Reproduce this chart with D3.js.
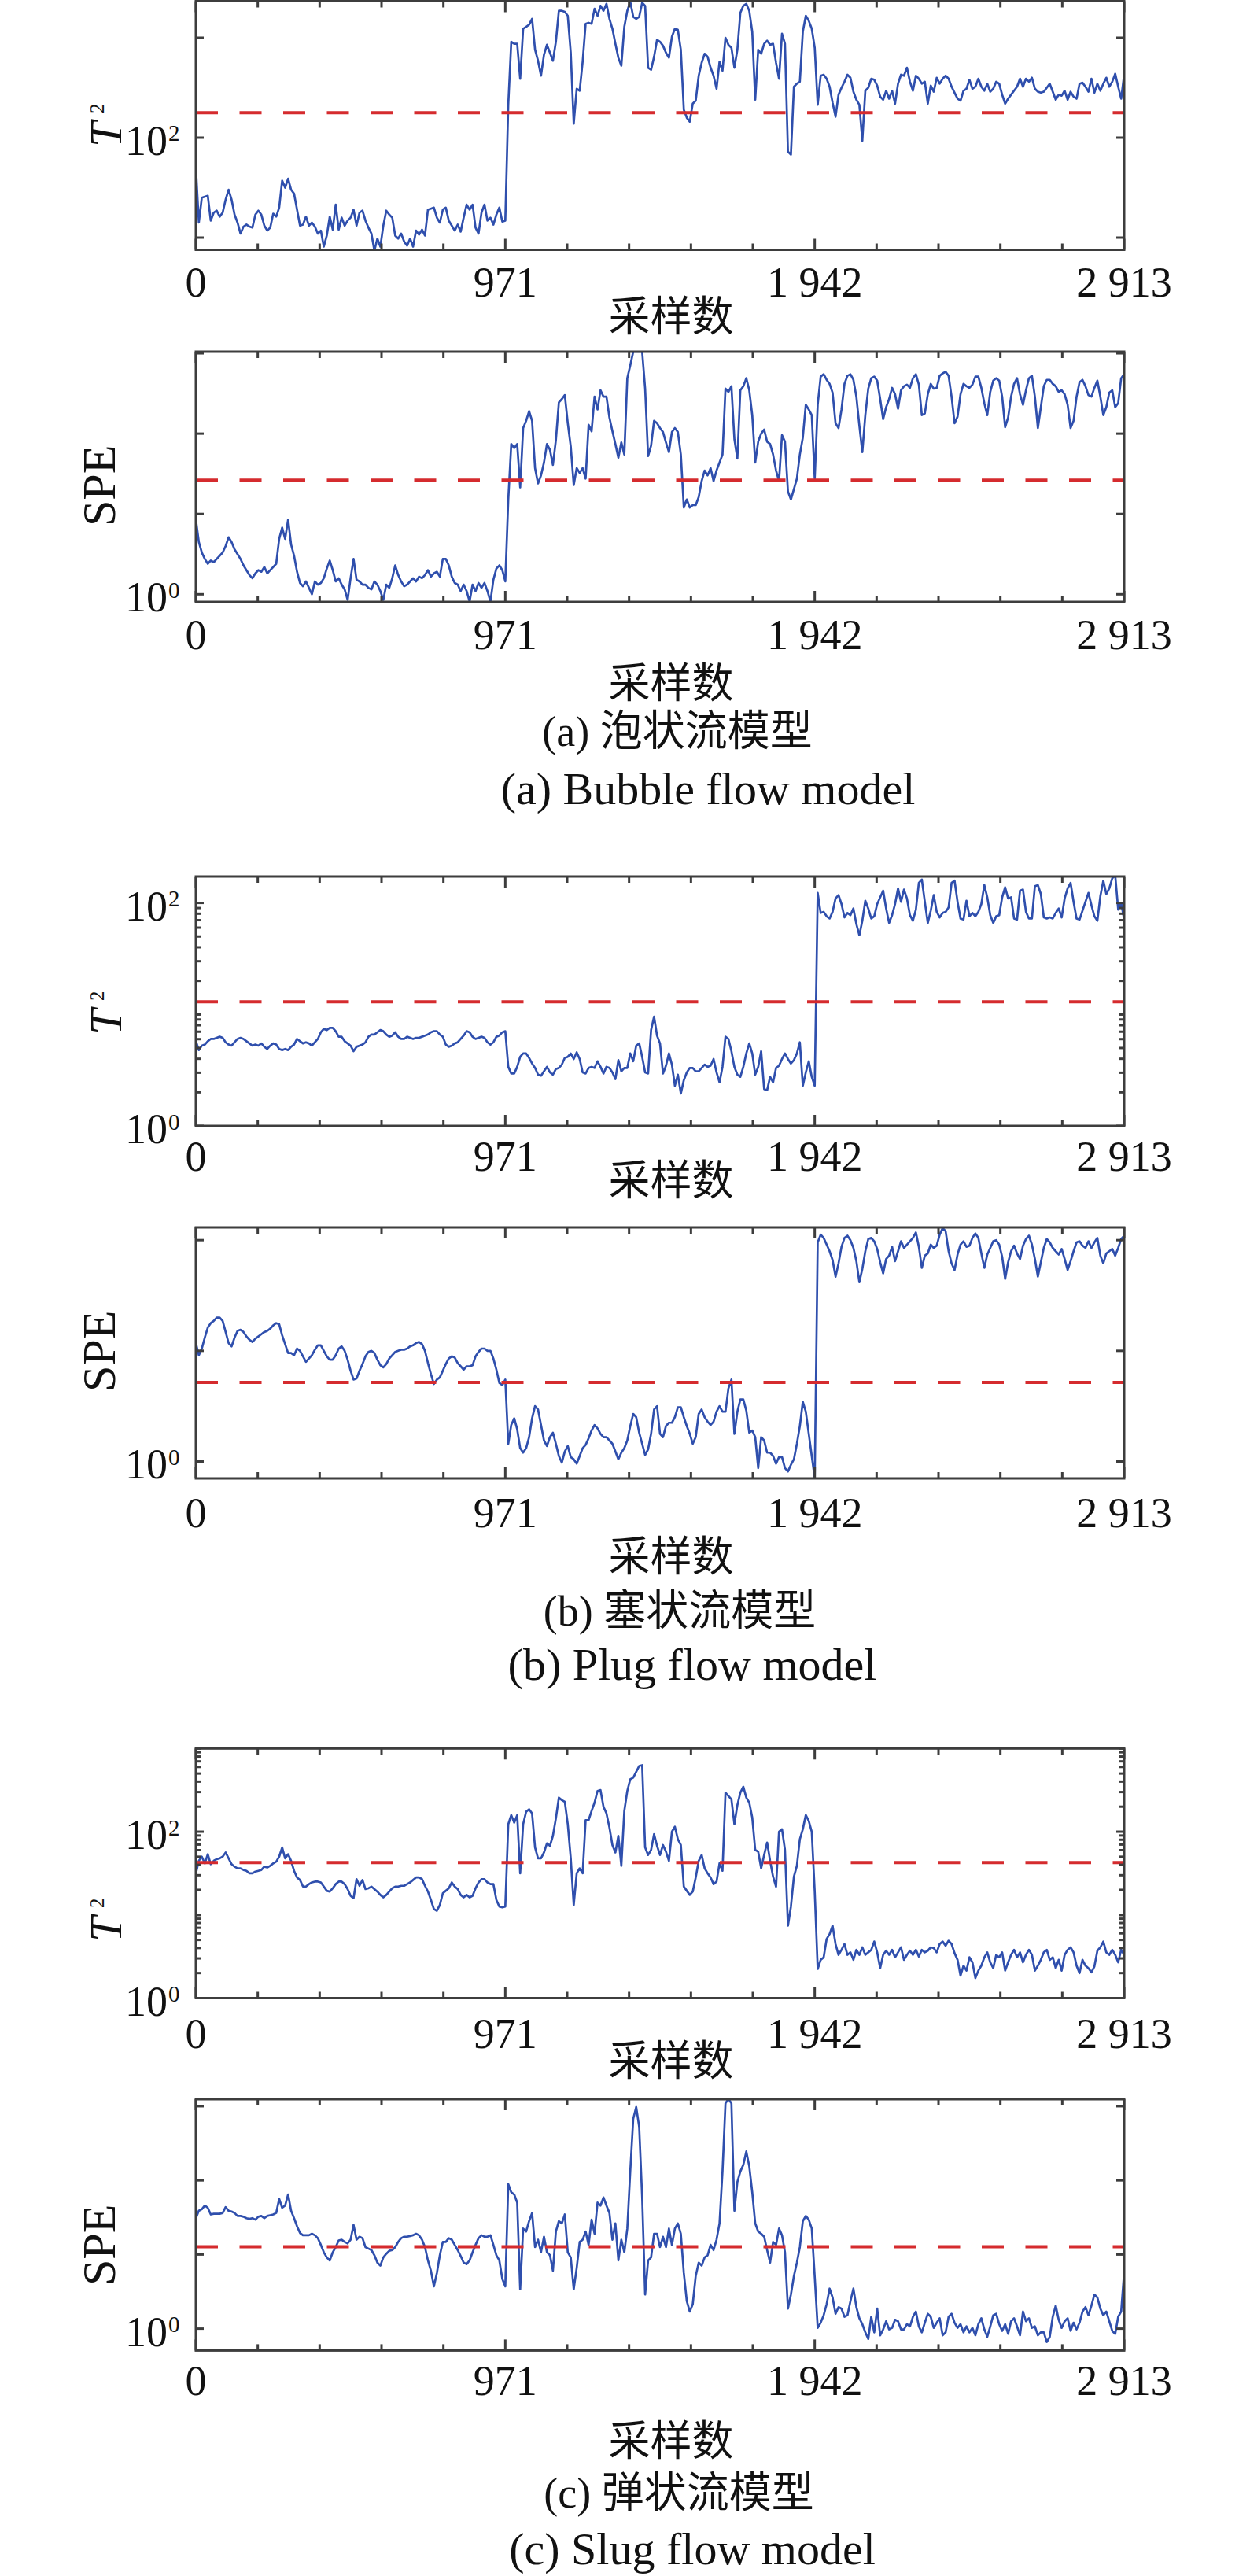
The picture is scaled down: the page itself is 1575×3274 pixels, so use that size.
<!DOCTYPE html>
<html><head><meta charset="utf-8">
<script src="https://cdn.jsdelivr.net/npm/d3@7"></script>
<style>body{margin:0;background:#fff}svg{display:block}</style>
</head><body>
<svg id="chart" width="1575" height="3274"></svg>
<script>
// ---------------- DATA ----------------
// x axis: sample number 0..2913 ; each series is read at evenly spaced samples
const sampleMax = 2913;
const xTickValues = [0, 971, 1942, 2913];
const xTickLabels = ["0", "971", "1 942", "2 913"];
const xAxisTitle = "采样数";
const captionsCn = ["(a) 泡状流模型", "(b) 塞状流模型", "(c) 弹状流模型"];
const captionsEn = ["(a) Bubble flow model", "(b) Plug flow model", "(c) Slug flow model"];

// all statistic values are stored as log10(value) (the y axes are logarithmic)
const bubbleT2Log = [1.70,1.15,1.40,1.41,1.42,1.17,1.25,1.27,1.21,1.25,1.38,1.48,1.38,1.23,1.15,1.04,1.11,1.13,1.11,1.10,1.23,1.27,1.23,1.12,1.07,1.10,1.24,1.21,1.30,1.57,1.50,1.59,1.48,1.44,1.28,1.12,1.13,1.21,1.12,1.15,1.11,1.04,1.07,0.91,1.02,1.21,1.08,1.33,1.08,1.20,1.12,1.17,1.20,1.28,1.12,1.25,1.27,1.17,1.10,1.04,0.87,0.99,0.91,1.12,1.27,1.23,1.20,1.02,0.99,1.04,0.96,0.92,0.99,0.91,1.07,1.03,1.08,1.02,1.28,1.29,1.30,1.20,1.15,1.28,1.30,1.17,1.12,1.07,1.13,1.06,1.20,1.33,1.28,1.33,1.10,1.04,1.25,1.33,1.17,1.20,1.13,1.23,1.30,1.16,1.17,
2.33,2.96,2.94,2.94,2.59,3.09,3.11,3.13,3.19,2.88,2.77,2.62,2.83,2.93,2.85,2.77,2.96,3.27,3.27,3.26,3.22,2.85,2.14,2.49,2.47,2.76,3.14,3.15,3.14,3.29,3.22,3.32,3.27,3.34,3.19,3.09,2.94,2.80,2.72,3.11,3.27,3.36,3.21,3.19,3.21,3.35,3.32,2.70,2.68,2.81,2.98,2.96,2.92,2.85,2.80,3.01,3.09,3.08,2.88,2.28,2.20,2.16,2.34,2.37,2.62,2.75,2.84,2.81,2.70,2.62,2.49,2.76,2.67,3.00,2.93,2.90,2.70,2.88,3.25,3.32,3.34,3.27,3.06,2.38,2.88,2.84,2.94,2.97,2.93,2.94,2.75,2.59,3.04,2.94,1.86,1.83,2.51,2.54,2.56,3.06,3.22,3.17,3.09,2.90,2.33,2.62,2.63,2.59,2.51,2.35,2.21,2.43,2.50,2.56,2.63,2.60,2.46,2.38,2.33,1.97,2.47,2.50,2.59,2.58,2.52,2.41,2.38,2.47,2.39,2.47,2.34,2.54,2.63,2.62,2.70,2.56,2.47,2.62,2.59,2.54,2.56,2.34,2.52,2.46,2.60,2.54,2.59,2.62,2.59,2.51,2.45,2.39,2.37,2.47,2.49,2.58,2.49,2.51,2.59,2.51,2.47,2.54,2.46,2.49,2.56,2.54,2.43,2.34,2.39,2.43,2.47,2.51,2.59,2.51,2.59,2.56,2.60,2.49,2.46,2.45,2.46,2.50,2.54,2.46,2.38,2.43,2.42,2.47,2.38,2.46,2.41,2.39,2.54,2.55,2.51,2.46,2.59,2.45,2.54,2.47,2.54,2.60,2.51,2.56,2.64,2.51,2.39,2.63];

const bubbleSpeLog = [0.93,0.65,0.52,0.44,0.38,0.42,0.40,0.44,0.48,0.52,0.60,0.71,0.65,0.56,0.50,0.44,0.36,0.30,0.24,0.20,0.26,0.30,0.28,0.34,0.26,0.30,0.34,0.38,0.69,0.83,0.69,0.93,0.62,0.48,0.28,0.14,0.10,0.16,0.08,0.00,0.16,0.12,0.14,0.20,0.32,0.42,0.30,0.16,0.20,0.12,0.06,-0.07,0.20,0.44,0.18,0.16,0.12,0.12,0.08,0.06,0.16,0.12,0.04,-0.07,0.12,0.08,0.20,0.36,0.24,0.16,0.10,0.12,0.16,0.20,0.16,0.22,0.20,0.24,0.30,0.22,0.26,0.28,0.22,0.44,0.44,0.36,0.22,0.14,0.12,0.04,0.12,0.04,-0.09,0.12,0.04,0.14,0.08,0.14,0.04,-0.09,0.18,0.32,0.36,0.30,0.16,
1.18,1.87,1.82,1.87,1.33,2.07,2.16,2.28,2.16,1.57,1.38,1.48,1.64,1.87,1.80,1.61,1.92,2.39,2.43,2.48,2.13,1.84,1.36,1.57,1.51,1.57,1.44,2.11,2.03,2.46,2.30,2.54,2.46,2.46,2.20,2.03,1.87,1.70,1.89,1.74,2.69,2.85,3.02,3.02,3.02,3.02,2.56,1.72,1.85,2.16,2.13,2.07,2.02,1.89,1.77,2.02,2.07,2.02,1.74,1.08,1.18,1.08,1.11,1.11,1.21,1.41,1.54,1.48,1.57,1.41,1.54,1.64,1.74,2.56,2.52,2.59,1.93,1.69,2.54,2.59,2.69,2.54,2.23,1.64,1.90,2.00,2.05,1.90,1.87,1.74,1.54,1.41,1.98,1.90,1.28,1.18,1.31,1.44,1.74,1.95,2.36,2.30,2.23,1.44,2.36,2.71,2.74,2.67,2.62,2.51,2.13,2.07,2.30,2.62,2.72,2.74,2.67,2.46,2.10,1.77,2.23,2.56,2.69,2.71,2.66,2.43,2.18,2.33,2.43,2.57,2.49,2.31,2.54,2.59,2.61,2.57,2.69,2.74,2.61,2.23,2.25,2.49,2.62,2.56,2.57,2.72,2.75,2.77,2.72,2.46,2.13,2.21,2.49,2.62,2.59,2.57,2.61,2.71,2.71,2.57,2.38,2.23,2.52,2.66,2.69,2.66,2.46,2.08,2.20,2.46,2.62,2.69,2.49,2.36,2.54,2.69,2.72,2.46,2.07,2.33,2.59,2.67,2.67,2.62,2.59,2.52,2.54,2.49,2.36,2.07,2.16,2.46,2.64,2.67,2.59,2.48,2.46,2.57,2.66,2.46,2.23,2.33,2.51,2.54,2.33,2.38,2.69,2.74];

const plugT2Log = [0.76,0.68,0.72,0.73,0.76,0.78,0.78,0.79,0.80,0.79,0.75,0.73,0.72,0.75,0.78,0.79,0.78,0.76,0.74,0.72,0.73,0.72,0.74,0.71,0.69,0.72,0.74,0.73,0.69,0.68,0.69,0.68,0.71,0.73,0.78,0.76,0.74,0.75,0.74,0.72,0.75,0.78,0.84,0.87,0.86,0.88,0.88,0.85,0.80,0.80,0.76,0.74,0.72,0.67,0.71,0.72,0.73,0.75,0.80,0.82,0.82,0.84,0.86,0.85,0.82,0.80,0.81,0.84,0.80,0.78,0.78,0.80,0.79,0.78,0.79,0.79,0.80,0.81,0.82,0.84,0.85,0.85,0.82,0.80,0.73,0.71,0.72,0.74,0.75,0.78,0.81,0.85,0.84,0.80,0.78,0.79,0.80,0.79,0.75,0.73,0.75,0.80,0.81,0.84,0.85,
0.53,0.47,0.47,0.53,0.62,0.65,0.65,0.61,0.56,0.52,0.46,0.45,0.49,0.53,0.48,0.46,0.51,0.52,0.55,0.61,0.62,0.65,0.60,0.66,0.60,0.48,0.47,0.52,0.53,0.52,0.58,0.53,0.47,0.53,0.52,0.48,0.42,0.59,0.49,0.52,0.52,0.65,0.58,0.72,0.74,0.62,0.48,0.47,0.86,0.98,0.81,0.74,0.47,0.54,0.65,0.55,0.36,0.46,0.29,0.41,0.48,0.52,0.52,0.49,0.49,0.52,0.55,0.53,0.54,0.60,0.48,0.39,0.53,0.80,0.78,0.67,0.53,0.46,0.44,0.53,0.65,0.74,0.65,0.46,0.53,0.67,0.33,0.32,0.44,0.39,0.52,0.54,0.60,0.65,0.60,0.56,0.59,0.65,0.75,0.36,0.48,0.58,0.44,0.36,
2.09,1.91,1.92,1.88,1.86,1.92,2.04,2.07,1.99,1.87,1.91,1.89,1.95,1.81,1.71,1.84,2.02,1.95,1.86,1.88,1.99,2.05,2.11,1.95,1.82,1.89,1.99,2.13,2.01,2.12,2.04,1.89,1.84,1.94,2.18,2.21,2.01,1.82,1.93,2.07,1.92,1.87,1.91,1.92,1.96,2.18,2.20,2.01,1.86,1.85,2.02,1.88,1.91,1.88,1.92,1.99,2.16,2.05,1.89,1.82,1.88,1.89,2.05,2.14,2.04,2.05,1.86,1.85,2.11,2.12,1.92,1.86,1.86,2.15,2.16,2.08,1.87,1.86,1.87,1.86,1.91,1.95,1.87,2.04,2.13,2.18,2.01,1.86,1.85,1.93,2.01,2.09,1.98,1.88,1.84,2.06,2.20,2.08,2.13,2.22,2.25,1.94,2.00,1.85];

const plugSpeLog = [1.07,0.96,1.02,1.12,1.21,1.25,1.27,1.30,1.30,1.27,1.17,1.07,1.04,1.12,1.18,1.19,1.17,1.13,1.10,1.08,1.11,1.13,1.15,1.17,1.18,1.20,1.23,1.25,1.24,1.14,1.06,0.98,0.98,0.96,1.02,1.00,0.95,0.90,0.93,0.96,1.01,1.05,1.05,1.00,0.95,0.92,0.92,0.96,1.02,1.04,1.00,0.92,0.82,0.74,0.75,0.82,0.88,0.95,0.99,1.00,0.98,0.92,0.87,0.85,0.88,0.93,0.96,0.99,1.00,1.01,1.01,1.02,1.04,1.05,1.07,1.08,1.06,1.00,0.89,0.79,0.70,0.74,0.76,0.82,0.88,0.93,0.95,0.94,0.89,0.86,0.83,0.86,0.86,0.87,0.95,0.99,1.02,1.02,1.00,1.00,0.93,0.83,0.71,0.69,0.74,
0.16,0.33,0.39,0.29,0.12,0.08,0.12,0.22,0.39,0.50,0.47,0.33,0.19,0.14,0.22,0.26,0.16,0.05,-0.01,0.09,0.14,0.04,0.02,-0.02,0.05,0.12,0.15,0.21,0.28,0.33,0.30,0.25,0.22,0.22,0.19,0.16,0.09,0.02,0.08,0.12,0.19,0.32,0.43,0.40,0.26,0.16,0.06,0.11,0.25,0.47,0.50,0.25,0.22,0.32,0.35,0.35,0.40,0.49,0.49,0.40,0.32,0.25,0.16,0.22,0.43,0.47,0.40,0.36,0.33,0.36,0.45,0.50,0.45,0.45,0.66,0.74,0.25,0.45,0.56,0.56,0.46,0.26,0.28,0.22,-0.06,0.22,0.19,0.08,0.08,0.05,-0.02,0.04,0.04,-0.06,-0.09,-0.03,0.02,0.16,0.32,0.54,0.45,0.25,0.05,-0.15,
1.98,2.05,2.02,1.96,1.90,1.82,1.67,1.79,1.94,2.02,2.04,2.00,1.93,1.81,1.62,1.74,1.90,2.01,2.02,1.99,1.92,1.80,1.70,1.83,1.86,1.94,1.81,1.90,1.99,1.93,1.96,1.99,2.02,2.07,1.94,1.75,1.86,1.88,1.96,1.93,1.95,2.05,2.11,2.08,1.90,1.79,1.73,1.87,1.96,1.99,1.94,1.95,2.02,2.06,2.02,1.88,1.75,1.87,1.93,1.99,2.00,1.96,1.85,1.65,1.80,1.90,1.95,1.88,1.83,1.95,2.01,2.04,1.96,1.83,1.67,1.80,1.93,2.01,1.98,1.93,1.90,1.87,1.92,1.83,1.73,1.81,1.90,1.98,1.99,1.95,1.93,1.99,1.93,1.98,2.02,1.86,1.79,1.88,1.90,1.92,1.86,1.93,2.01,2.04];

const slugT2Log = [1.50,1.65,1.70,1.62,1.73,1.61,1.65,1.67,1.68,1.70,1.75,1.68,1.61,1.58,1.56,1.56,1.54,1.53,1.50,1.50,1.52,1.53,1.54,1.58,1.57,1.59,1.62,1.64,1.70,1.81,1.68,1.73,1.65,1.53,1.45,1.42,1.34,1.34,1.37,1.39,1.40,1.40,1.39,1.34,1.29,1.28,1.32,1.37,1.40,1.40,1.37,1.31,1.23,1.20,1.43,1.35,1.42,1.31,1.32,1.34,1.31,1.28,1.24,1.21,1.24,1.28,1.32,1.34,1.34,1.35,1.35,1.37,1.39,1.42,1.45,1.45,1.43,1.35,1.28,1.18,1.07,1.05,1.12,1.26,1.29,1.32,1.39,1.34,1.31,1.24,1.21,1.24,1.21,1.23,1.32,1.39,1.43,1.43,1.39,1.37,1.37,1.18,1.10,1.09,1.10,
2.09,2.20,2.11,2.20,1.50,2.09,2.24,2.27,2.22,1.81,1.68,1.68,1.75,1.86,1.83,1.95,2.16,2.41,2.38,2.36,2.09,1.68,1.12,1.50,1.56,1.50,2.14,2.14,2.25,2.35,2.49,2.50,2.30,2.22,2.05,1.84,1.75,1.95,1.59,2.25,2.49,2.63,2.65,2.72,2.79,2.80,1.81,1.72,1.78,1.97,1.83,1.72,1.84,1.76,1.65,2.00,2.06,1.91,1.84,1.34,1.29,1.24,1.28,1.45,1.65,1.72,1.56,1.50,1.45,1.37,1.40,1.62,1.53,2.47,2.43,2.39,2.09,2.32,2.47,2.54,2.41,2.35,2.17,1.78,1.76,1.56,1.72,1.87,1.65,1.46,1.34,2.00,2.03,1.78,0.87,1.10,1.46,1.59,1.91,2.03,2.20,2.13,2.00,1.28,0.35,0.46,0.49,0.71,0.77,0.87,0.65,0.52,0.58,0.65,0.52,0.55,0.46,0.58,0.52,0.61,0.52,0.55,0.58,0.68,0.55,0.36,0.52,0.57,0.52,0.58,0.49,0.55,0.61,0.46,0.52,0.57,0.52,0.58,0.50,0.58,0.55,0.57,0.61,0.60,0.55,0.65,0.68,0.63,0.69,0.65,0.54,0.46,0.27,0.39,0.33,0.49,0.43,0.24,0.33,0.39,0.49,0.55,0.43,0.36,0.52,0.49,0.55,0.33,0.43,0.52,0.58,0.49,0.55,0.43,0.52,0.58,0.52,0.33,0.39,0.46,0.55,0.58,0.46,0.49,0.36,0.46,0.33,0.52,0.58,0.61,0.55,0.39,0.30,0.46,0.39,0.36,0.31,0.38,0.57,0.61,0.68,0.55,0.52,0.58,0.52,0.43,0.58,0.52];

const slugSpeLog = [1.49,1.59,1.61,1.66,1.63,1.54,1.55,1.55,1.55,1.56,1.64,1.59,1.58,1.56,1.52,1.52,1.51,1.49,1.48,1.49,1.47,1.51,1.52,1.49,1.52,1.53,1.54,1.56,1.75,1.63,1.66,1.81,1.59,1.49,1.38,1.29,1.26,1.26,1.26,1.28,1.26,1.22,1.13,1.03,0.96,0.92,1.03,1.10,1.19,1.20,1.17,1.15,1.20,1.40,1.20,1.24,1.22,1.10,1.08,1.06,0.99,0.89,0.85,0.96,1.01,1.05,1.06,1.10,1.17,1.22,1.24,1.24,1.25,1.26,1.28,1.26,1.20,1.10,0.92,0.78,0.57,0.75,0.99,1.17,1.17,1.22,1.20,1.13,1.06,0.98,0.89,0.87,0.92,1.03,1.13,1.22,1.26,1.24,1.24,1.26,1.13,0.99,0.92,0.67,0.57,
1.95,1.84,1.81,1.70,0.53,1.35,1.31,1.45,1.56,1.10,1.20,1.03,1.24,1.03,0.99,0.78,1.31,1.45,1.42,1.54,1.03,0.96,0.53,0.82,1.17,1.20,1.31,1.13,1.47,1.28,1.70,1.66,1.77,1.66,1.56,1.20,1.42,0.92,1.20,1.03,1.35,2.12,2.83,2.99,2.72,1.77,0.46,0.92,0.96,1.28,1.28,1.10,1.24,1.10,1.35,1.13,1.35,1.42,1.28,0.75,0.37,0.23,0.33,0.71,0.89,0.85,0.96,0.99,1.13,1.06,1.20,1.42,2.12,3.04,3.10,3.04,1.59,1.98,2.12,2.21,2.39,2.19,1.84,1.42,1.31,1.28,1.24,1.06,0.89,1.17,1.13,1.35,1.26,1.03,0.27,0.46,0.71,0.89,1.10,1.45,1.52,1.47,1.35,
0.70,0.01,0.08,0.18,0.33,0.54,0.42,0.20,0.29,0.27,0.16,0.18,0.37,0.54,0.29,0.14,0.06,-0.05,-0.14,0.16,-0.05,0.27,-0.09,-0.01,0.10,-0.01,0.01,0.12,0.10,-0.01,-0.01,0.06,0.03,0.16,0.23,0.03,-0.05,0.08,0.20,0.16,0.01,0.08,0.14,-0.09,-0.05,0.16,0.20,0.08,0.01,0.06,-0.05,0.03,-0.05,0.01,-0.09,0.06,0.14,-0.01,-0.11,0.03,0.18,0.20,0.06,-0.03,0.06,-0.07,0.10,0.14,0.03,-0.09,0.23,0.10,0.14,0.01,0.03,-0.09,-0.05,-0.05,-0.18,-0.11,0.16,0.31,0.12,0.01,0.10,0.14,-0.03,0.08,-0.01,0.08,0.23,0.29,0.18,0.31,0.46,0.42,0.27,0.18,0.23,0.10,-0.03,-0.07,0.16,0.23,0.76];

// control limits (log10)
const limitsLog = [2.25, 1.42, 1.113, 0.714, 1.628, 1.106];

// ---------------- LAYOUT ----------------
const serif = '"Liberation Serif","DejaVu Serif","Noto Sans CJK SC",serif';
const cjk = '"Noto Sans CJK SC","Liberation Serif",sans-serif';
const axisColor = "#3d3d3d", lineColor = "#2f4fad", limitColor = "#d52b2e";
const L = 249, R = 1429;

const panels = [
  {data: bubbleT2Log, lim: limitsLog[0], kind: "T2", top: 1.5, bottom: 317.5, dom: [0.878, 3.366], major: [1,2,3], minorDec: null, labels: [2], tickBase: 377, titleBase: 420.5, yLabStart: 187},
  {data: bubbleSpeLog, lim: limitsLog[1], kind: "SPE", top: 447, bottom: 765, dom: [-0.095, 3.02], major: [0,1,2,3], minorDec: null, labels: [0], tickBase: 824.5, titleBase: 887, yLabStart: 669, cap: 0},
  {data: plugT2Log, lim: limitsLog[2], kind: "T2", top: 1114, bottom: 1431, dom: [0, 2.237], major: [0,2], minorDec: [0,1], labels: [0,2], tickBase: 1488, titleBase: 1518.5, yLabStart: 1315},
  {data: plugSpeLog, lim: limitsLog[3], kind: "SPE", top: 1560, bottom: 1879, dom: [-0.153, 2.115], major: [0,1,2], minorDec: null, labels: [0], tickBase: 1941, titleBase: 1997, yLabStart: 1769, cap: 1},
  {data: slugT2Log, lim: limitsLog[4], kind: "T2", top: 2222.3, bottom: 2539.5, dom: [0, 3.0], major: [0,2], minorDec: [0,1,2], labels: [0,2], tickBase: 2603, titleBase: 2638, yLabStart: 2468},
  {data: slugSpeLog, lim: limitsLog[5], kind: "SPE", top: 2668, bottom: 2987.4, dom: [-0.295, 3.095], major: [0,1,2,3], minorDec: null, labels: [0], tickBase: 3044, titleBase: 3120.6, yLabStart: 2905, cap: 2}
];
const capLayout = [
  {cnX: 861, cnBase: 948, enX: 900, enBase: 1022},
  {cnX: 864, cnBase: 2066, enX: 880, enBase: 2135},
  {cnX: 863, cnBase: 3187, enX: 880, enBase: 3259}
];

const svg = d3.select("#chart");
const x = d3.scaleLinear().domain([0, sampleMax]).range([L, R]);

panels.forEach((p, pi) => {
  const y = d3.scaleLinear().domain(p.dom).range([p.bottom, p.top]);
  const g = svg.append("g");
  const clipId = "clip" + pi;
  svg.append("clipPath").attr("id", clipId).append("rect")
    .attr("x", L).attr("y", p.top).attr("width", R - L).attr("height", p.bottom - p.top);

  const step = sampleMax / (p.data.length - 1);
  const line = d3.line().x((d, i) => x(i * step)).y(d => y(d));
  g.append("path").datum(p.data).attr("d", line)
    .attr("clip-path", `url(#${clipId})`)
    .attr("fill", "none").attr("stroke", lineColor).attr("stroke-width", 2.7)
    .attr("stroke-linejoin", "round");

  g.append("line").attr("x1", x(0)).attr("x2", x(sampleMax))
    .attr("y1", y(p.lim)).attr("y2", y(p.lim))
    .attr("stroke", limitColor).attr("stroke-width", 4).attr("stroke-dasharray", "28 27.5");

  // x ticks (major + minor, inward, top and bottom)
  const xMinor = d3.range(0, 16).map(k => k * 971 / 5).filter(v => !xTickValues.some(t => Math.abs(t - v) < 1));
  const tick = (x1, y1, x2, y2) => g.append("line").attr("x1", x1).attr("y1", y1).attr("x2", x2).attr("y2", y2)
    .attr("stroke", axisColor).attr("stroke-width", 3);
  xTickValues.forEach(v => { tick(x(v), p.bottom, x(v), p.bottom - 14); tick(x(v), p.top, x(v), p.top + 14); });
  xMinor.forEach(v => { tick(x(v), p.bottom, x(v), p.bottom - 8); tick(x(v), p.top, x(v), p.top + 8); });

  // y ticks
  p.major.forEach(e => { if (e >= p.dom[0] - 1e-6 && e <= p.dom[1] + 1e-6) { tick(L, y(e), L + 10, y(e)); tick(R, y(e), R - 10, y(e)); } });
  if (p.minorDec) {
    p.minorDec.forEach(d => {
      for (let k = 1; k <= 10; k++) {
        const e = d + Math.log10(k);
        if (p.major.includes(Math.round(e * 1000) / 1000)) continue;
        if (e < p.dom[0] || e > p.dom[1] + 1e-6) continue;
        tick(L, y(e), L + 6, y(e)); tick(R, y(e), R - 6, y(e));
      }
    });
  }

  // frame
  g.append("rect").attr("x", L).attr("y", p.top).attr("width", R - L).attr("height", p.bottom - p.top)
    .attr("fill", "none").attr("stroke", axisColor).attr("stroke-width", 3);

  // y tick labels 10^k
  p.labels.forEach(e => {
    const base = y(e) + 22;
    g.append("text").attr("x", 213).attr("y", base).attr("text-anchor", "end")
      .attr("font-family", serif).attr("font-size", 54).attr("fill", "#111").text("10");
    g.append("text").attr("x", 214).attr("y", base - 17.5).attr("text-anchor", "start")
      .attr("font-family", serif).attr("font-size", 29).attr("fill", "#111").text(String(e));
  });

  // x tick labels
  xTickValues.forEach((v, i) => {
    g.append("text").attr("x", x(v)).attr("y", p.tickBase).attr("text-anchor", "middle")
      .attr("font-family", serif).attr("font-size", 54).attr("fill", "#111").text(xTickLabels[i]);
  });

  // x title
  g.append("text").attr("x", 853).attr("y", p.titleBase).attr("text-anchor", "middle")
    .attr("font-family", cjk).attr("font-size", 53).attr("fill", "#111").text(xAxisTitle);

  // y title
  if (p.kind === "T2") {
    const yl = g.append("g").attr("transform", `translate(154,${p.yLabStart}) rotate(-90)`);
    yl.append("text").attr("x", 0).attr("y", 0).attr("font-family", serif).attr("font-style", "italic")
      .attr("font-size", 58).attr("fill", "#111").text("T");
    yl.append("text").attr("x", 43).attr("y", -22).attr("font-family", serif)
      .attr("font-size", 25).attr("fill", "#111").text("2");
  } else {
    const yl = g.append("g").attr("transform", `translate(146,${p.yLabStart}) rotate(-90)`);
    yl.append("text").attr("x", 0).attr("y", 0).attr("font-family", serif)
      .attr("font-size", 60).attr("fill", "#111").text("SPE");
  }

  if (p.cap !== undefined) {
    const c = capLayout[p.cap];
    g.append("text").attr("x", c.cnX).attr("y", c.cnBase).attr("text-anchor", "middle")
      .attr("font-family", serif).attr("font-size", 54).attr("fill", "#111").text(captionsCn[p.cap]);
    g.append("text").attr("x", c.enX).attr("y", c.enBase).attr("text-anchor", "middle")
      .attr("font-family", serif).attr("font-size", 58).attr("fill", "#111").text(captionsEn[p.cap]);
  }
});
</script>
</body></html>
